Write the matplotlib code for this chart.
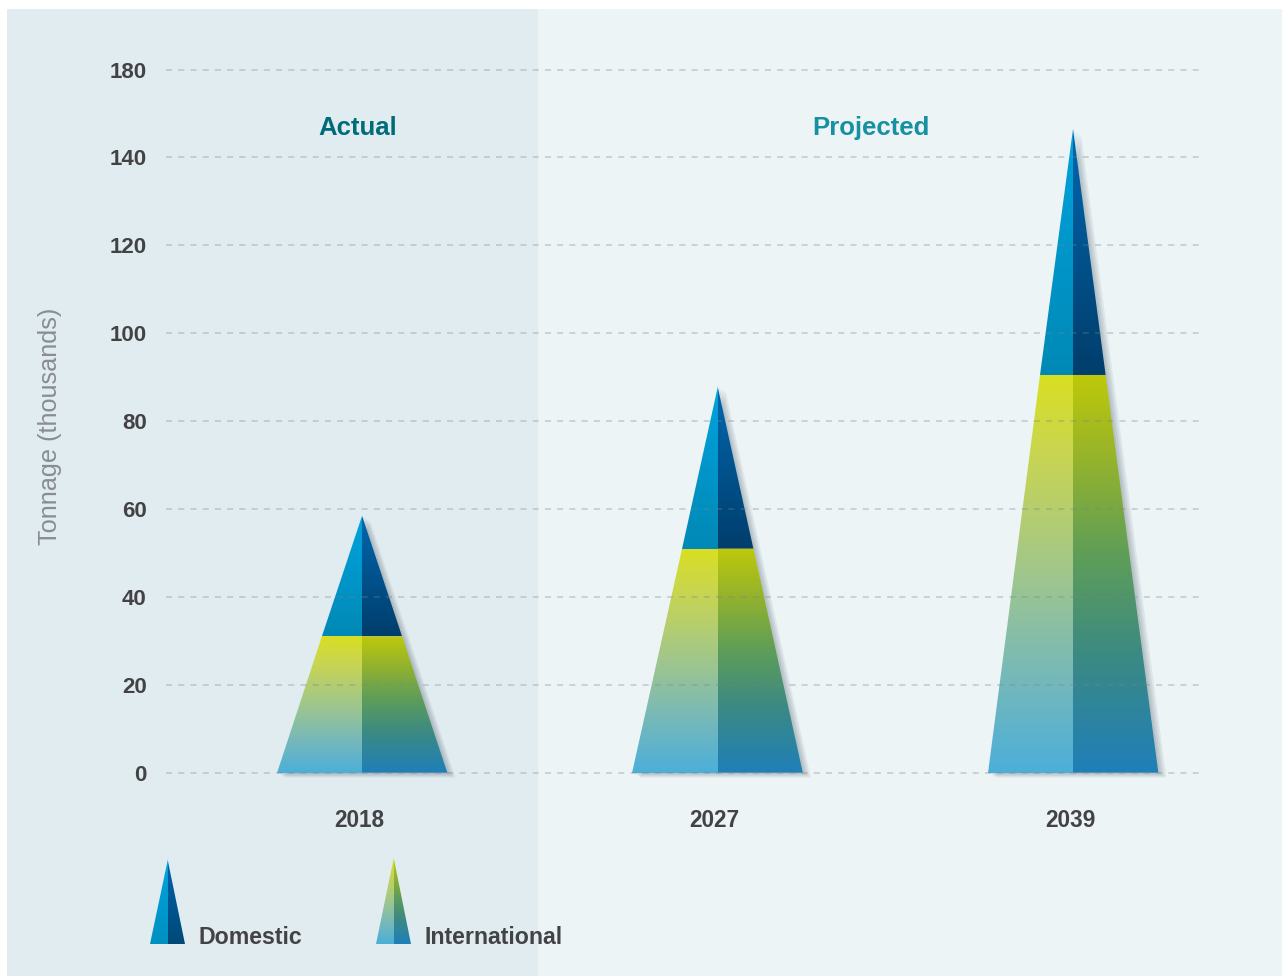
import numpy as np
import matplotlib
matplotlib.use("Agg")
import matplotlib.pyplot as plt
from matplotlib.patches import Polygon, Rectangle
from matplotlib.colors import to_rgb
import matplotlib.transforms as mtransforms

# ---------------- data ----------------
years = ["2018", "2027", "2039"]
international = [31.0, 51.0, 90.5]
domestic = [27.5, 37.0, 56.0]
ytick_values = [0, 20, 40, 60, 80, 100, 120, 140, 160]
ytick_labels = ["0", "20", "40", "60", "80", "100", "120", "140", "180"]
section_labels = ["Actual", "Projected"]
legend_labels = ["Domestic", "International"]
y_label = "Tonnage (thousands)"

# ---------------- style ----------------
FONT = "Liberation Sans"
TXT = "#434346"
DOM_L = [(0.0, "#0089b6"), (1.0, "#00a3dd")]
DOM_R = [(0.0, "#003e6c"), (1.0, "#0067ae")]
INT_L = [(0.0, "#4cafd9"), (0.25, "#78b9b8"), (0.5, "#a0c68c"), (0.8, "#c8d552"), (1.0, "#d9df22")]
INT_R = [(0.0, "#1f7fb9"), (0.3, "#3c8a82"), (0.55, "#5f9e58"), (0.8, "#97b42a"), (1.0, "#bec90a")]

W, H = 1282, 976
fig = plt.figure(figsize=(W / 100, H / 100), dpi=100)
fig.patch.set_facecolor("white")

fig.patches.append(Rectangle((7 / W, 0), (538 - 7) / W, (H - 9) / H, transform=fig.transFigure,
                             facecolor="#e1ecf0", edgecolor="none", zorder=-5))
fig.patches.append(Rectangle((538 / W, 0), (W - 538) / W, (H - 9) / H, transform=fig.transFigure,
                             facecolor="#ecf4f6", edgecolor="none", zorder=-5))


def grad_fill(axis, verts, stops, zorder=1):
    verts = np.asarray(verts, dtype=float)
    x0, x1 = verts[:, 0].min(), verts[:, 0].max()
    y0, y1 = verts[:, 1].min(), verts[:, 1].max()
    t = np.linspace(0, 1, 256)
    pos = [s[0] for s in stops]
    cols = np.array([to_rgb(s[1]) for s in stops])
    rgb = np.stack([np.interp(t, pos, cols[:, k]) for k in range(3)], axis=1)
    img = rgb[::-1][:, None, :]
    im = axis.imshow(img, extent=(x0, x1, y0, y1), aspect="auto", origin="upper",
                     interpolation="bilinear", zorder=zorder)
    poly = Polygon(verts, closed=True, facecolor="none", edgecolor="none", transform=axis.transData)
    im.set_clip_path(poly)
    return im


def shadow(axis, verts, zorder=0.8):
    for i, d in enumerate([2, 4, 6, 8]):
        tr = mtransforms.offset_copy(axis.transData, fig=fig, x=d, y=-d * 0.6, units="dots")
        axis.add_patch(Polygon(verts, closed=True, facecolor="#1e3040", edgecolor="none",
                               alpha=0.07, transform=tr, zorder=zorder))


# ---------------- main axes ----------------
ax = fig.add_axes([166 / W, (H - 790) / H, (1200 - 166) / W, 740 / H])
ax.set_facecolor("none")

hw = 0.24
for i, (iv, dv) in enumerate(zip(international, domestic)):
    c = i
    tot = iv + dv
    ws = hw * (1 - iv / tot)
    shadow(ax, [(c - hw, 0), (c + hw, 0), (c, tot)])
    grad_fill(ax, [(c - hw, 0), (c, 0), (c, iv), (c - ws, iv)], INT_L)
    grad_fill(ax, [(c, 0), (c + hw, 0), (c + ws, iv), (c, iv)], INT_R)
    grad_fill(ax, [(c - ws, iv), (c, iv), (c, tot)], DOM_L)
    grad_fill(ax, [(c, iv), (c + ws, iv), (c, tot)], DOM_R)
    ax.text(c - 0.008, -10.8, years[i], ha="center", va="center", fontsize=16.3, fontweight="bold",
            color=TXT, family=FONT, clip_on=False)

ax.set_xlim(-0.5513, 2.3572)
ax.set_ylim(-3.94, 164.44)
ax.set_yticks(ytick_values)
ax.set_yticklabels(ytick_labels, fontsize=16, fontweight="bold", color=TXT, family=FONT)
ax.set_xticks([])
ax.tick_params(axis="y", length=0, pad=14)
for s in ax.spines.values():
    s.set_visible(False)
ax.set_axisbelow(False)
ax.yaxis.grid(True, color="#76858b", alpha=0.38, linewidth=1.1, linestyle=(0, (4, 4)))

fig.text(358 / W, 1 - 128 / H, section_labels[0], ha="center", va="center", fontsize=18.5,
         fontweight="bold", color="#006b79", family=FONT)
fig.text(871 / W, 1 - 128 / H, section_labels[1], ha="center", va="center", fontsize=18.5,
         fontweight="bold", color="#1790a1", family=FONT)
fig.text(50 / W, 1 - 426 / H, y_label, ha="center", va="center", rotation=90, fontsize=18.2,
         color="#878d91", family=FONT)

# ---------------- legend ----------------
lax = fig.add_axes([0, 0, 1, 1])
lax.set_facecolor("none")
lax.axis("off")


def P(x, y):
    return (x, H - y)


grad_fill(lax, [P(150, 944), P(167.5, 944), P(167.5, 859)], [(0, "#0090c0"), (1, "#00a4de")])
grad_fill(lax, [P(167.5, 944), P(185, 944), P(167.5, 859)], [(0, "#004878"), (1, "#0064ac")])
grad_fill(lax, [P(376, 944), P(393.5, 944), P(393.5, 857)], INT_L)
grad_fill(lax, [P(393.5, 944), P(411, 944), P(393.5, 857)], INT_R)
lax.text(198, H - 944, legend_labels[0], ha="left", va="baseline", fontsize=16.7, fontweight="bold",
         color=TXT, family=FONT)
lax.text(424, H - 944, legend_labels[1], ha="left", va="baseline", fontsize=16.7, fontweight="bold",
         color=TXT, family=FONT)
lax.set_xlim(0, W)
lax.set_ylim(0, H)

fig.savefig("out.png", dpi=100, facecolor=fig.get_facecolor())
